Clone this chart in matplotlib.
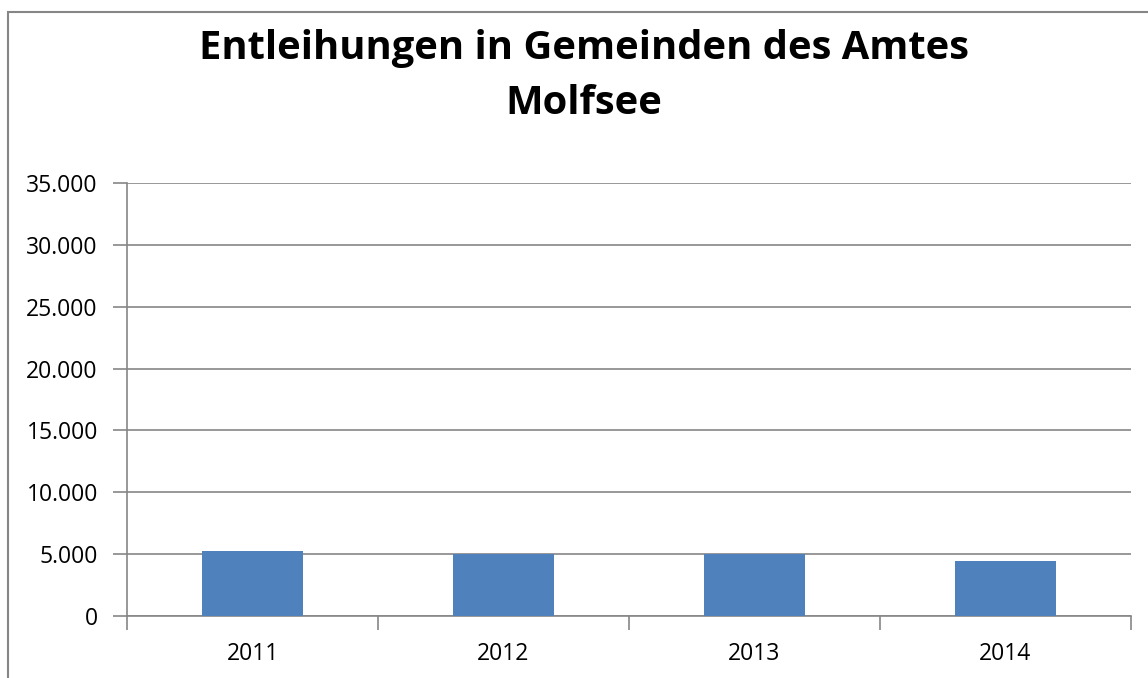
import matplotlib
matplotlib.use("Agg")
import matplotlib.pyplot as plt
from matplotlib.patches import Rectangle
from matplotlib.ticker import FuncFormatter, FixedLocator

years = ["2011", "2012", "2013", "2014"]
entleihungen = [5290, 5020, 5010, 4460]
title_lines = ["Entleihungen in Gemeinden des Amtes", "Molfsee"]

FONT = "Open Sans"
GRAY = "#868686"
BAR = "#4F81BD"

fig = plt.figure(figsize=(11.48, 6.78), dpi=100)
ax = fig.add_axes([127/1148, 1 - 616/678, (1131 - 127)/1148, (616 - 183)/678])

x = list(range(len(years)))
ax.bar(x, entleihungen, width=0.4, color=BAR, zorder=3)

ax.set_xlim(-0.5, len(years) - 0.5)
ax.set_ylim(0, 35000)
ax.set_yticks(range(0, 35001, 5000))
ax.yaxis.set_major_formatter(FuncFormatter(lambda v, p: f"{int(v):,}".replace(",", ".")))
ax.grid(axis="y", color=GRAY, linewidth=1.2, zorder=0)

# category labels centered, tick marks between categories
ax.set_xticks(x)
ax.set_xticklabels(years)
ax.tick_params(axis="x", length=0, pad=19)
ax.xaxis.set_minor_locator(FixedLocator([i - 0.5 for i in range(len(years) + 1)]))
ax.tick_params(axis="x", which="minor", length=10, color=GRAY, width=1.2)
ax.tick_params(axis="y", length=10, color=GRAY, width=1.2, pad=11)

for lab in ax.get_xticklabels() + ax.get_yticklabels():
    lab.set_fontfamily(FONT)
    lab.set_fontsize(16.5)

for side in ["top", "right"]:
    ax.spines[side].set_visible(False)
for side in ["left", "bottom"]:
    ax.spines[side].set_color(GRAY)
    ax.spines[side].set_linewidth(1.2)

fig.text(584/1148, 1 - 49/678, title_lines[0], ha="center", va="center",
         fontsize=28.7, fontweight="bold", family=FONT)
fig.text(584/1148, 1 - 104/678, title_lines[1], ha="center", va="center",
         fontsize=28.7, fontweight="bold", family=FONT)

# chart-area border (right and bottom edges are outside the image)
fig.patches.append(Rectangle((8/1148, -0.1), 1.2, 1 - 12/678 + 0.1,
                             transform=fig.transFigure, fill=False,
                             edgecolor=GRAY, linewidth=1.5))

fig.savefig("out.png", dpi=100)
